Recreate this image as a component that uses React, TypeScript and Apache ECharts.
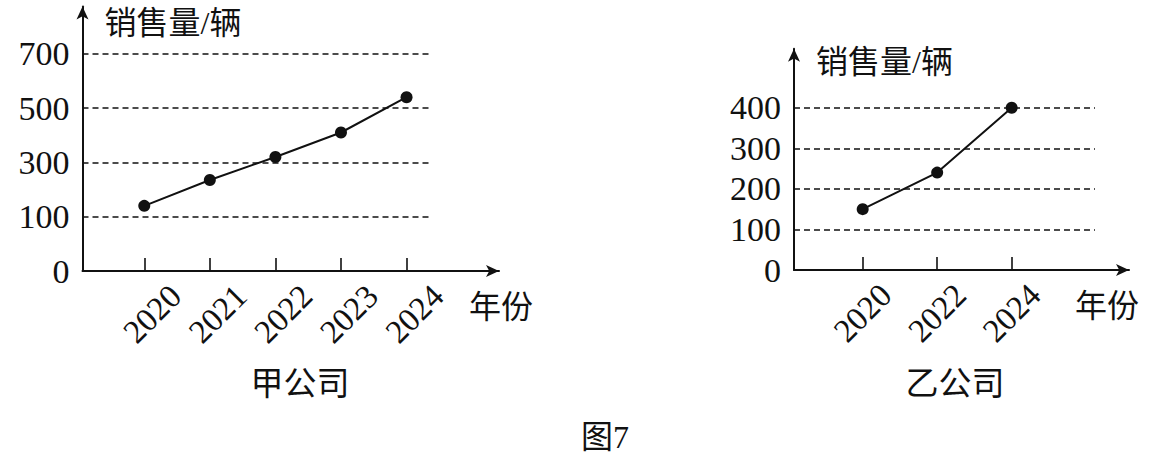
import React, { useEffect, useRef } from "react";
import * as echarts from "echarts";

// ---- data ----
const yearsA = [2020, 2021, 2022, 2023, 2024];
const salesA = [140, 235, 320, 410, 540];
const yearsB = [2020, 2022, 2024];
const salesB = [150, 240, 400];

// axis A has a compressed 0..100 segment: tick "0" sits one step below 100
const yTickValuesA = [-100, 100, 300, 500, 700];
const yTickLabelsA = ["0", "100", "300", "500", "700"];
const gridValuesA = [100, 300, 500, 700];

const yTickValuesB = [0, 100, 200, 300, 400];
const yTickLabelsB = ["0", "100", "200", "300", "400"];
const gridValuesB = [100, 200, 300, 400];

const yName = "销售量/辆";
const xName = "年份";
const captionA = "甲公司";
const captionB = "乙公司";
const figCaption = "图7";

const INK = "#111";
const SERIF = "'Liberation Serif', 'Times New Roman', serif";
const CJK = "'Noto Sans CJK SC', sans-serif";
const MIXED = "'Liberation Serif', 'Noto Sans CJK SC', serif";

function buildAxes(
  gridIndex: number,
  xMin: number,
  xMax: number,
  yMin: number,
  yMax: number,
  years: number[],
  yVals: number[],
  yLabels: string[],
  yNameGap: number,
  xNameGap: number,
  labelShift: number
) {
  const xAxis = {
    type: "value",
    gridIndex,
    min: xMin,
    max: xMax,
    splitLine: { show: false },
    axisLine: {
      show: true,
      onZero: false,
      symbol: ["none", "arrow"],
      symbolSize: [9, 13],
      lineStyle: { color: INK, width: 2 },
    },
    axisTick: {
      show: true,
      inside: true,
      length: 13,
      customValues: years,
      lineStyle: { color: INK, width: 1.6 },
    },
    axisLabel: {
      show: true,
      customValues: years,
      formatter: (v: number) => String(v),
      rotate: 45,
      align: "center",
      verticalAlign: "middle",
      margin: 43 + labelShift,
      padding: [0, 0, 0, labelShift * 2.83],
      fontSize: 33,
      fontFamily: SERIF,
      color: INK,
    },
    name: xName,
    nameLocation: "end",
    nameGap: xNameGap,
    nameTextStyle: {
      fontSize: 32,
      fontFamily: CJK,
      color: INK,
      align: "center",
      verticalAlign: "top",
      padding: [17, 0, 0, 0],
    },
  };
  const yAxis = {
    type: "value",
    gridIndex,
    min: yMin,
    max: yMax,
    splitLine: { show: false },
    axisLine: {
      show: true,
      onZero: false,
      symbol: ["none", "arrow"],
      symbolSize: [9, 13],
      lineStyle: { color: INK, width: 2 },
    },
    axisTick: { show: false },
    axisLabel: {
      show: true,
      customValues: yVals,
      formatter: (v: number) => {
        const i = yVals.indexOf(v);
        return i >= 0 ? yLabels[i] : "";
      },
      margin: 13,
      fontSize: 34,
      fontFamily: SERIF,
      color: INK,
    },
    name: yName,
    nameLocation: "end",
    nameGap: yNameGap,
    nameTextStyle: {
      fontSize: 32,
      fontFamily: MIXED,
      color: INK,
      align: "left",
      verticalAlign: "middle",
      padding: [0, 0, 0, 22],
    },
  };
  return { xAxis, yAxis };
}

function gridLines(xStart: number, xEnd: number, values: number[]) {
  return {
    symbol: "none",
    silent: true,
    animation: false,
    label: { show: false },
    lineStyle: { type: [6, 4], color: INK, width: 1.6 },
    emphasis: { disabled: true },
    data: values.map((v) => [{ coord: [xStart, v] }, { coord: [xEnd, v] }]),
  };
}

export default function App() {
  const ref = useRef<HTMLDivElement>(null);
  useEffect(() => {
    if (!ref.current) return;
    const chart = echarts.init(ref.current, undefined, { renderer: "svg" });

    const axA = buildAxes(0, 2019.058, 2025.41, -100, 874, yearsA, yTickValuesA, yTickLabelsA, -16, 2, 8);
    const axB = buildAxes(1, 2018.156, 2027.15, 0, 545.4, yearsB, yTickValuesB, yTickLabelsB, -13, -22, 0);

    const option: any = {
      animation: false,
      backgroundColor: "#fff",
      grid: [
        { left: 82.5, top: 6.5, width: 416.5, height: 264.5, containLabel: false, outerBoundsMode: "none" },
        { left: 794, top: 48.7, width: 335, height: 221.3, containLabel: false, outerBoundsMode: "none" },
      ],
      xAxis: [axA.xAxis, axB.xAxis],
      yAxis: [axA.yAxis, axB.yAxis],
      series: [
        {
          type: "line",
          xAxisIndex: 0,
          yAxisIndex: 0,
          data: yearsA.map((y, i) => [y, salesA[i]]),
          symbol: "circle",
          symbolSize: 12,
          lineStyle: { color: INK, width: 2 },
          itemStyle: { color: INK },
          z: 5,
          markLine: gridLines(2019.058, 2024.37, gridValuesA),
        },
        {
          type: "line",
          xAxisIndex: 1,
          yAxisIndex: 1,
          data: yearsB.map((y, i) => [y, salesB[i]]),
          symbol: "circle",
          symbolSize: 12,
          lineStyle: { color: INK, width: 2 },
          itemStyle: { color: INK },
          z: 5,
          markLine: gridLines(2018.156, 2026.236, gridValuesB),
        },
      ],
      graphic: [
        {
          type: "text",
          x: 300,
          y: 381,
          style: { text: captionA, fontSize: 33, fontFamily: CJK, fill: INK, align: "center", verticalAlign: "middle" },
        },
        {
          type: "text",
          x: 955,
          y: 381,
          style: { text: captionB, fontSize: 33, fontFamily: CJK, fill: INK, align: "center", verticalAlign: "middle" },
        },
        {
          type: "text",
          x: 605,
          y: 437,
          style: { text: figCaption, fontSize: 32, fontFamily: MIXED, fill: INK, align: "center", verticalAlign: "middle" },
        },
      ],
    };
    chart.setOption(option);
    return () => chart.dispose();
  }, []);
  return (
    <div
      ref={ref}
      style={{ position: "fixed", left: 0, top: 0, width: 1153, height: 458, background: "#fff" }}
    />
  );
}
